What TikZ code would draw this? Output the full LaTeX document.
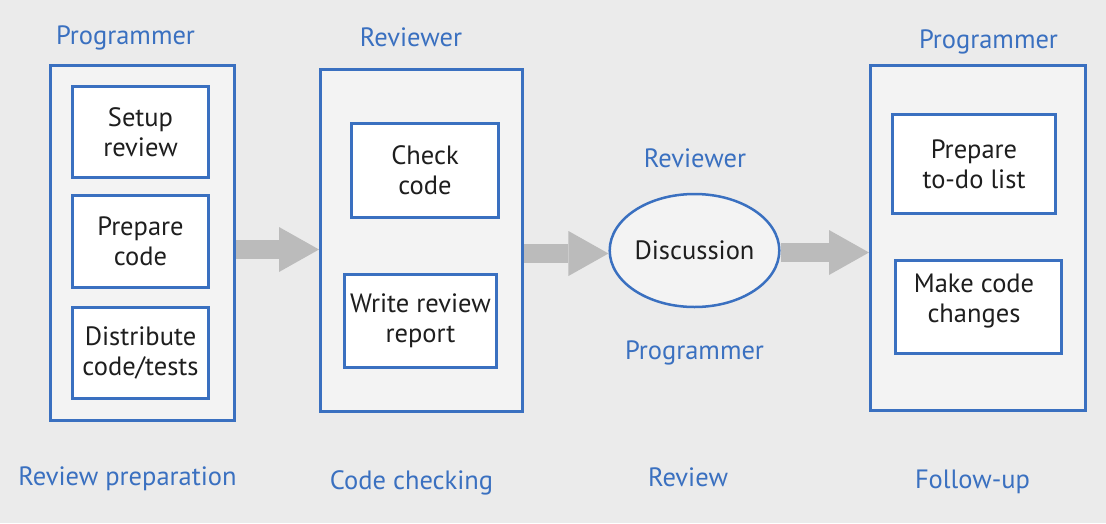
\documentclass[tikz,border=0pt]{standalone}
\usepackage{fontspec}
\setmainfont{PT Sans}
\usetikzlibrary{shapes.geometric,arrows.meta}
\definecolor{bg}{HTML}{EBEBEB}
\definecolor{boxfill}{HTML}{F3F3F3}
\definecolor{blu}{HTML}{3A70C0}
\definecolor{arr}{HTML}{BBBBBB}
\definecolor{ink}{HTML}{1E1E1E}
\begin{document}
\begin{tikzpicture}[x=1pt,y=-1pt,
  outerbox/.style={draw=blu,line width=3pt,fill=boxfill,inner sep=0pt},
  innerbox/.style={draw=blu,line width=3pt,fill=white,inner sep=0pt,align=center,
    font=\fontsize{26.5}{30}\selectfont,text=ink},
  txt/.style={inner sep=0pt,align=center,font=\fontsize{26.5}{30}\selectfont,text=ink},
  lbl/.style={text=blu,font=\fontsize{26.5}{30}\selectfont,anchor=base,inner sep=0pt},
  bigarrow/.style={draw=arr,line width=19pt,
    -{Triangle[length=40pt,width=45pt,line width=0pt]}}]
\fill[bg] (0,0) rectangle (1106,523);
\useasboundingbox (0,0) rectangle (1106,523);

% outer boxes
\node[outerbox,minimum width=184pt,minimum height=355pt] (b1) at (142.5,243) {};
\node[outerbox,minimum width=202pt,minimum height=342pt] (b2) at (421.5,240.5) {};
\node[outerbox,minimum width=215pt,minimum height=345pt] (b3) at (978,238) {};

% inner boxes
\node[innerbox,minimum width=136pt,minimum height=91pt] (s1) at (140.5,132) {Setup\\review};
\node[innerbox,minimum width=136pt,minimum height=92pt] (s2) at (140.5,241.5) {Prepare\\code};
\node[innerbox,minimum width=136pt,minimum height=91pt] (s3) at (140.5,353) {Distribute\\code/tests};
\node[innerbox,minimum width=147pt,minimum height=94pt] (c1) at (425,170.5) {Check\\code};
\node[innerbox,minimum width=152pt,minimum height=93pt] (c2) at (420.5,321) {Write review\\report};
\node[innerbox,minimum width=163pt,minimum height=99pt] (f1) at (974,164) {Prepare\\to-do list};
\node[innerbox,minimum width=166pt,minimum height=93pt] (f2) at (978.5,307) {};
\node[txt] (f2t) at (974,301) {Make code\\changes};

% discussion
\node[draw=blu,line width=2.5pt,fill=boxfill,ellipse,inner sep=0pt,
  minimum width=161pt,minimum height=113pt,font=\fontsize{26.5}{30}\selectfont,text=ink]
  (d) at (694.5,250.5) {Discussion};

% arrows
\coordinate (a1) at (0,249.5);
\coordinate (a2) at (0,253.5);
\coordinate (a3) at (0,252.5);
\draw[bigarrow] (b1.east |- a1) -- (b2.west |- a1);
\draw[bigarrow] (b2.east |- a2) -- (d.west |- a2);
\draw[bigarrow] (d.east |- a3) -- (b3.west |- a3);

% labels
\node[lbl] (l1) at (125.5,44) {Programmer};
\node[lbl] (l2) at (411,46) {Reviewer};
\node[lbl] (l3) at (988.5,48) {Programmer};
\node[lbl] (l4) at (695,167) {Reviewer};
\node[lbl] (l5) at (694.5,359) {Programmer};
\node[lbl] (p1) at (127.5,485) {Review preparation};
\node[lbl] (p2) at (411.5,489) {Code checking};
\node[lbl] (p3) at (688,486) {Review};
\node[lbl] (p4) at (972.5,488) {Follow-up};
\end{tikzpicture}
\end{document}
